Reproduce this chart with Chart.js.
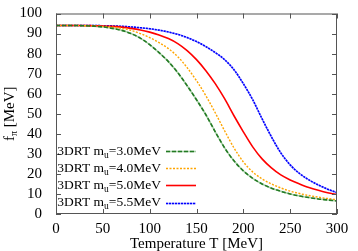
<!DOCTYPE html>
<html>
<head>
<meta charset="utf-8">
<script src="https://cdn.jsdelivr.net/npm/chart.js@4"></script>
<style>
  html, body { margin: 0; padding: 0; background: #fff; }
  #wrap { width: 358px; height: 251px; }
</style>
</head>
<body>
<div id="wrap"><canvas id="fpiChart" width="358" height="251"></canvas></div>
<script>
// Temperature grid [MeV]
const temps = [0, 10, 20, 30, 40, 50, 60, 70, 80, 90, 100, 110, 120, 130, 140, 150,
               160, 170, 180, 190, 200, 210, 220, 230, 240, 250, 260, 270, 280, 290, 300];

// f_pi [MeV] for each current quark mass
const fpi30 = [94, 94, 94, 93.9, 93.7, 93.3, 92.6, 91.6, 90, 87.7, 84.5, 80.5, 76, 70.5, 64, 57,
               49.5, 41, 33, 26.5, 21.5, 17.8, 15, 12.9, 11.3, 10, 9, 8.2, 7.5, 7, 6.5];
const fpi40 = [94, 94, 94, 93.9, 93.8, 93.6, 93.2, 92.6, 91.6, 90, 88, 85.5, 82.5, 78.5, 73, 66.5,
               59, 50.5, 41.5, 33, 26, 21, 17.5, 15, 13, 11.4, 10.2, 9.2, 8.4, 7.7, 7.1];
const fpi50 = [94, 94, 94, 94, 93.9, 93.8, 93.6, 93.2, 92.6, 91.8, 90.7, 89.3, 87.5, 85, 81.5, 77,
               71.5, 65, 57.5, 49, 41, 33.5, 27.5, 23, 19.5, 17, 15, 13.2, 11.8, 10.6, 9.7];
const fpi55 = [94, 94, 94, 94, 94, 93.9, 93.8, 93.6, 93.3, 92.9, 92.4, 91.7, 90.8, 89.6, 88, 86,
               83.5, 80.5, 77, 72, 65, 57, 47.5, 38.5, 30.5, 24.5, 20.2, 17, 14.5, 12.4, 10.6];

const massLabels = ['3.0', '4.0', '5.0', '5.5'];
const xTicks = [0, 50, 100, 150, 200, 250, 300];

const FONT = '"Liberation Serif", "DejaVu Serif", serif';

function points(vals) {
    return temps.map((t, i) => ({ x: t, y: vals[i] }));
}

// under: a pale solid line drawn below the dashes (gnuplot-ish look)
const series = [
    { data: fpi30, color: '#237a23', under: '#a8d0a8', dash: [4, 2], width: 1.6 },
    { data: fpi40, color: '#ffa500', under: null, dash: [2, 1.5], width: 1.4 },
    { data: fpi50, color: '#ff0000', under: null, dash: [], width: 1.6 },
    { data: fpi55, color: '#0000ff', under: '#b0b0ff', dash: [2, 1], width: 1.6 }
];

// frame, inward ticks, legend with subscripts and axis titles
const decorations = {
    id: 'decorations',
    afterDraw(chart) {
        const ctx = chart.ctx;
        const a = chart.chartArea;
        const xs = chart.scales.x, ys = chart.scales.y;
        ctx.save();
        ctx.strokeStyle = '#555';
        ctx.lineWidth = 1;
        ctx.strokeRect(a.left + 0.5, a.top + 0.5, a.right - a.left - 1, a.bottom - a.top - 1);
        ctx.beginPath();
        xTicks.forEach(v => {
            const px = Math.round(xs.getPixelForValue(v)) + 0.5;
            ctx.moveTo(px, a.bottom); ctx.lineTo(px, a.bottom - 5);
            ctx.moveTo(px, a.top); ctx.lineTo(px, a.top + 5);
        });
        for (let v = 0; v <= 100; v += 10) {
            const py = Math.round(ys.getPixelForValue(v)) + 0.5;
            ctx.moveTo(a.left, py); ctx.lineTo(a.left + 5, py);
            ctx.moveTo(a.right, py); ctx.lineTo(a.right - 5, py);
        }
        ctx.stroke();

        // legend
        ctx.textBaseline = 'alphabetic';
        series.forEach((s, i) => {
            const y = 151 + i * 17.2;
            const main = '3DRT m';
            const rest = '=' + massLabels[i] + 'MeV';
            ctx.font = '13.5px ' + FONT;
            const w1 = ctx.measureText(main).width;
            const w3 = ctx.measureText(rest).width;
            ctx.font = '9.5px ' + FONT;
            const w2 = ctx.measureText('u').width;
            const right = 161;
            let x = right - (w1 + w2 + w3);
            ctx.fillStyle = '#000';
            ctx.font = '13.5px ' + FONT;
            ctx.fillText(main, x, y + 3.5);
            ctx.font = '9.5px ' + FONT;
            ctx.fillText('u', x + w1, y + 6.5);
            ctx.font = '13.5px ' + FONT;
            ctx.fillText(rest, x + w1 + w2, y + 3.5);

            const ly = Math.round(y) + 0.5;
            if (s.under) {
                ctx.strokeStyle = s.under;
                ctx.lineWidth = s.width;
                ctx.setLineDash([]);
                ctx.beginPath();
                ctx.moveTo(166, ly);
                ctx.lineTo(196, ly);
                ctx.stroke();
            }
            ctx.strokeStyle = s.color;
            ctx.lineWidth = s.width;
            ctx.setLineDash(s.dash);
            ctx.beginPath();
            ctx.moveTo(166, ly);
            ctx.lineTo(196, ly);
            ctx.stroke();
            ctx.setLineDash([]);
        });

        // x title
        ctx.fillStyle = '#000';
        ctx.font = '15px ' + FONT;
        ctx.textAlign = 'center';
        ctx.textBaseline = 'alphabetic';
        ctx.fillText('Temperature T [MeV]', (a.left + a.right) / 2, 248);

        // y title, rotated, with subscript pi
        ctx.translate(14, (a.top + a.bottom) / 2);
        ctx.rotate(-Math.PI / 2);
        ctx.textAlign = 'left';
        ctx.font = '15px ' + FONT;
        const wf = ctx.measureText('f').width;
        const wr = ctx.measureText(' [MeV]').width;
        ctx.font = '10px ' + FONT;
        const wp = ctx.measureText('\u03c0').width;
        let x0 = -(wf + wp + wr) / 2;
        ctx.font = '15px ' + FONT;
        ctx.fillText('f', x0, 0);
        ctx.font = '10px ' + FONT;
        ctx.fillText('\u03c0', x0 + wf, 3);
        ctx.font = '15px ' + FONT;
        ctx.fillText(' [MeV]', x0 + wf + wp, 0);
        ctx.restore();
    }
};

const datasets = [];
series.forEach((s, i) => {
    datasets.push({
        label: '3DRT mu=' + massLabels[i] + 'MeV',
        data: points(s.data),
        borderColor: s.color,
        borderWidth: s.width,
        borderDash: s.dash,
        pointRadius: 0,
        fill: false,
        order: 1,
        cubicInterpolationMode: 'monotone'
    });
    if (s.under) {
        datasets.push({
            label: 'under ' + massLabels[i],
            data: points(s.data),
            borderColor: s.under,
            borderWidth: s.width,
            pointRadius: 0,
            fill: false,
            order: 2,
            cubicInterpolationMode: 'monotone'
        });
    }
});

document.addEventListener('DOMContentLoaded', function () {
    const ctx = document.getElementById('fpiChart').getContext('2d');
    new Chart(ctx, {
        type: 'line',
        data: { datasets: datasets },
        options: {
            responsive: false,
            animation: false,
            layout: { padding: { top: 13, right: 21, left: 0, bottom: 0 } },
            plugins: {
                legend: { display: false },
                tooltip: { enabled: false }
            },
            scales: {
                x: {
                    type: 'linear',
                    min: 0, max: 300,
                    afterBuildTicks: s => { s.ticks = xTicks.map(v => ({ value: v })); },
                    afterFit: s => { s.height = 37; },
                    grid: { display: false },
                    border: { display: false },
                    ticks: { color: '#000', padding: 0, maxRotation: 0, autoSkip: false, font: { family: FONT, size: 15, lineHeight: 1 } }
                },
                y: {
                    min: 0, max: 100,
                    afterFit: s => { s.width = 56; },
                    grid: { display: false },
                    border: { display: false },
                    ticks: { stepSize: 10, color: '#000', padding: 6, autoSkip: false, font: { family: FONT, size: 15, lineHeight: 1 } }
                }
            }
        },
        plugins: [decorations]
    });
});
</script>
</body>
</html>
